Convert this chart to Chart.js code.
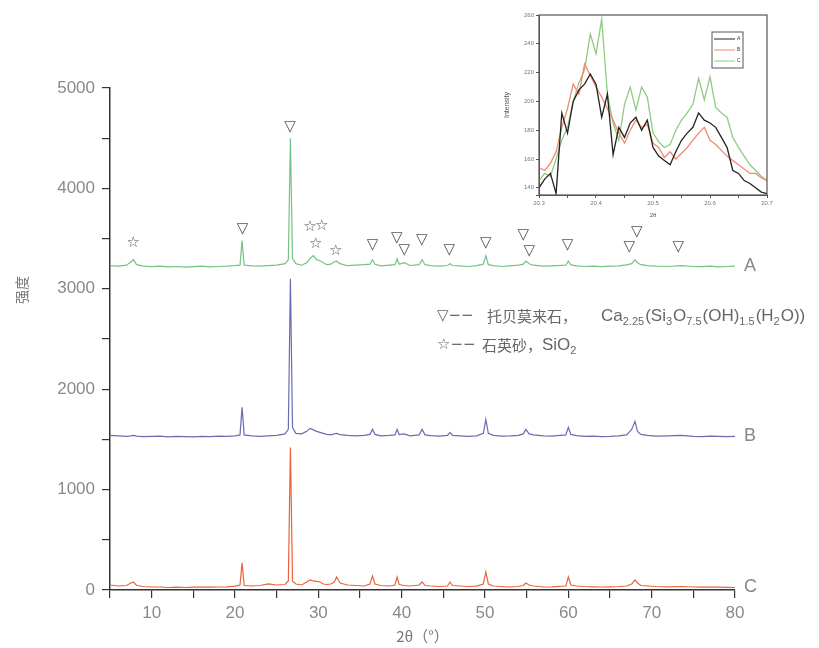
<!DOCTYPE html>
<html>
<head>
<meta charset="utf-8">
<script src="https://cdn.jsdelivr.net/npm/chart.js@4.4.0/dist/chart.umd.min.js"></script>
<style>
    html, body { margin: 0; padding: 0; background: #fff; }
    #wrap { position: relative; width: 819px; height: 648px; }
    #mainChart { position: absolute; left: 0; top: 0; }
    #insetChart { position: absolute; left: 495px; top: 5px; }
</style>
</head>
<body>
<div id="wrap">
    <canvas id="mainChart" width="819" height="648"></canvas>
    <canvas id="insetChart" width="285" height="218"></canvas>
</div>
<script>
// ===========================
// Data
// ===========================
const twoTheta = [
    5, 6, 7, 7.5, 7.8, 8.2, 9, 10, 11, 12,
    13, 14, 15, 16, 17, 18, 19, 20, 20.6, 20.85,
    21.1, 22, 23, 24, 25, 26, 26.4, 26.65, 26.9, 27.3,
    28, 28.6, 29, 29.4, 29.8, 30.2, 30.6, 31, 31.5, 31.9,
    32.2, 32.6, 33.5, 34.5, 35.5, 36.2, 36.5, 36.8, 37.5, 38.5,
    39.2, 39.45, 39.7, 40.3, 41, 42.1, 42.45, 42.8, 43.5, 44.5,
    45.5, 45.8, 46.1, 47, 48, 49, 49.8, 50.1, 50.4, 51,
    52, 53, 54, 54.6, 54.9, 55.3, 55.8, 57, 58, 59.7,
    60, 60.3, 61, 62, 63, 64, 65, 66, 67, 67.6,
    68, 68.3, 68.7, 69.5, 70.5, 72, 73.5, 75, 76, 77,
    78, 79, 80
];

const intensityA = [
    3230, 3225, 3235, 3270, 3290, 3240, 3225, 3220, 3225, 3218,
    3222, 3215, 3220, 3225, 3218, 3222, 3225, 3230, 3235, 3480,
    3235, 3228, 3225, 3230, 3235, 3250, 3290, 4500, 3300, 3250,
    3235, 3260, 3300, 3330, 3290, 3280, 3260, 3240, 3245, 3270,
    3275, 3250, 3230, 3235, 3240, 3245, 3290, 3245, 3228, 3235,
    3240, 3300, 3245, 3260, 3232, 3240, 3290, 3240, 3230, 3225,
    3232, 3250, 3232, 3228, 3222, 3230, 3245, 3330, 3240, 3230,
    3222, 3228, 3235, 3245, 3275, 3250, 3235, 3225, 3228, 3235,
    3275, 3238, 3228, 3222, 3225, 3220, 3225, 3228, 3238, 3250,
    3290, 3260, 3240, 3230, 3225, 3222, 3230, 3222, 3220, 3225,
    3218, 3222, 3225
];

const intensityB = [
    1540, 1535, 1530, 1535, 1540, 1532, 1528, 1530, 1532, 1526,
    1530, 1528, 1525, 1530, 1528, 1532, 1530, 1535, 1545, 1820,
    1545, 1535, 1530, 1535, 1540, 1555, 1600, 3100, 1620, 1560,
    1555, 1580, 1610, 1595, 1580, 1570, 1560, 1550, 1545, 1555,
    1560, 1548, 1540, 1535, 1540, 1550, 1600, 1550, 1535, 1540,
    1545, 1600, 1548, 1555, 1535, 1545, 1600, 1545, 1538, 1532,
    1540, 1570, 1540, 1535, 1530, 1535, 1560, 1700, 1560, 1540,
    1532, 1535, 1540, 1555, 1600, 1555, 1545, 1535, 1532, 1545,
    1620, 1550, 1538, 1530, 1532, 1528, 1530, 1535, 1545, 1600,
    1680, 1580, 1550, 1540, 1532, 1535, 1540, 1530, 1528, 1532,
    1530, 1528, 1530
];

const intensityC = [
    50, 40, 45, 70, 80, 45, 35, 30, 30, 25,
    28, 25, 28, 30, 28, 30, 32, 38, 50, 270,
    45, 40, 45, 60, 50, 55, 90, 1420, 90, 60,
    50, 80, 100, 90, 85, 80, 60, 55, 60, 80,
    130, 70, 50, 45, 40, 60, 140, 60, 45, 40,
    50, 130, 55, 45, 40, 50, 80, 45, 40, 35,
    40, 80, 45, 40, 35, 38, 60, 180, 60, 40,
    35, 30, 35, 45, 70, 50, 40, 30, 32, 40,
    130, 50, 40, 35, 32, 30, 32, 35, 40, 60,
    100, 70, 45, 40, 35, 32, 35, 30, 28, 30,
    28, 26, 25
];

// Phase markers (tobermorite = triangle, quartz = star)
const tobermoriteX = [20.9, 26.6, 36.5, 39.4, 40.3, 42.4, 45.7, 50.1, 54.6, 55.3, 59.9, 67.3, 68.2, 73.2];
const tobermoriteY = [3590, 4610, 3440, 3500, 3390, 3480, 3390, 3460, 3530, 3380, 3440, 3420, 3560, 3420];
const quartzX = [7.8, 29.0, 30.4, 29.7, 32.1];
const quartzY = [3460, 3610, 3625, 3445, 3380];

// Inset (zoomed region)
const insetTheta = [
    20.30, 20.31, 20.32, 20.33, 20.34, 20.35, 20.36, 20.37, 20.38, 20.39,
    20.40, 20.41, 20.42, 20.43, 20.44, 20.45, 20.46, 20.47, 20.48, 20.49,
    20.50, 20.51, 20.52, 20.53, 20.54, 20.55, 20.56, 20.57, 20.58, 20.59,
    20.60, 20.61, 20.62, 20.63, 20.64, 20.65, 20.66, 20.67, 20.68, 20.69,
    20.70
];
const insetBlack = [
    140, 146, 150, 136, 192, 178, 200, 208, 212, 219,
    212, 189, 205, 163, 182, 175, 185, 189, 180, 187,
    168, 162, 159, 156, 165, 173, 178, 182, 192, 187,
    185, 182, 175, 168, 152, 150, 145, 143, 140, 137,
    136
];
const insetRed = [
    154, 152, 157, 165, 182, 195, 212, 205, 226, 218,
    210, 203, 195, 187, 178, 171, 180, 187, 182, 184,
    171, 168, 161, 165, 160, 164, 168, 173, 178, 182,
    173, 170, 166, 162, 159, 156, 153, 150, 150, 147,
    145
];
const insetGreen = [
    145, 150, 148, 160, 173, 182, 200, 213, 222, 247,
    233, 257, 205, 185, 173, 198, 210, 194, 210, 203,
    178, 172, 168, 170, 180, 187, 192, 198, 216, 201,
    217, 196, 192, 189, 175, 168, 162, 156, 152, 148,
    145
];
const insetLabels = ['A', 'B', 'C'];

// ===========================
// Plugins
// ===========================
const markerPlugin = {
    id: 'markers',
    afterDatasetsDraw(chart) {
        const { ctx, scales: { x, y } } = chart;
        ctx.save();
        ctx.fillStyle = '#555';
        ctx.textAlign = 'center';
        ctx.textBaseline = 'middle';
        ctx.font = '15px "DejaVu Sans"';
        tobermoriteX.forEach((v, i) => {
            ctx.fillText('▽', x.getPixelForValue(v), y.getPixelForValue(tobermoriteY[i]));
        });
        quartzX.forEach((v, i) => {
            ctx.fillText('☆', x.getPixelForValue(v), y.getPixelForValue(quartzY[i]));
        });
        ctx.restore();
    }
};

const seriesLabelPlugin = {
    id: 'seriesLabels',
    afterDatasetsDraw(chart) {
        const { ctx, scales: { x, y } } = chart;
        ctx.save();
        ctx.fillStyle = '#888';
        ctx.font = '18px "Liberation Sans"';
        ctx.textBaseline = 'middle';
        chart.data.datasets.forEach(ds => {
            const last = ds.data[ds.data.length - 1];
            ctx.fillText(ds.label, x.right + 9, y.getPixelForValue(last.y));
        });
        ctx.restore();
    }
};

// draws a run of normal / subscript text pieces
function drawRich(ctx, x, y, parts) {
    parts.forEach(([text, sub]) => {
        if (sub) {
            ctx.font = '11px "Liberation Sans"';
            ctx.fillText(text, x, y + 6);
        } else {
            ctx.font = '17px "Liberation Sans"';
            ctx.fillText(text, x, y);
        }
        x += ctx.measureText(text).width + (sub ? 1 : 0);
    });
}

const notePlugin = {
    id: 'note',
    afterDraw(chart) {
        const ctx = chart.ctx;
        ctx.save();
        ctx.fillStyle = '#666';
        ctx.textBaseline = 'middle';
        // line 1
        ctx.font = '15px "DejaVu Sans"';
        ctx.fillText('▽−−', 437, 316);
        ctx.font = '15px "Noto Sans CJK SC"';
        ctx.fillText('托贝莫来石，', 487, 316);
        drawRich(ctx, 601, 316, [
            ['Ca'], ['2.25', true], ['(Si'], ['3', true], ['O'], ['7.5', true],
            ['(OH)'], ['1.5', true], ['(H'], ['2', true], ['O))']
        ]);
        // line 2
        ctx.font = '15px "DejaVu Sans"';
        ctx.fillText('☆−−', 437, 345);
        ctx.font = '15px "Noto Sans CJK SC"';
        ctx.fillText('石英砂，', 482, 345);
        drawRich(ctx, 542, 345, [['SiO'], ['2', true]]);
        // y axis title
        ctx.translate(22, 290);
        ctx.rotate(-Math.PI / 2);
        ctx.textAlign = 'center';
        ctx.fillStyle = '#777';
        ctx.font = '14px "Noto Sans CJK SC"';
        ctx.fillText('强度', 0, 0);
        ctx.restore();
    }
};

const framePlugin = {
    id: 'frame',
    afterDraw(chart) {
        const { ctx, chartArea: a } = chart;
        ctx.save();
        ctx.strokeStyle = '#555';
        ctx.lineWidth = 1.2;
        ctx.strokeRect(a.left, a.top, a.right - a.left, a.bottom - a.top);
        // small legend box
        const colors = ['#222', '#f08a70', '#90cc80'];
        ctx.lineWidth = 1;
        ctx.strokeRect(217, 27, 31, 36);
        ctx.font = '5px "Liberation Sans"';
        ctx.textBaseline = 'middle';
        colors.forEach((c, i) => {
            const yy = 34 + i * 11;
            ctx.strokeStyle = c;
            ctx.beginPath();
            ctx.moveTo(219, yy);
            ctx.lineTo(240, yy);
            ctx.stroke();
            ctx.fillStyle = '#333';
            ctx.fillText(insetLabels[i], 242, yy);
        });
        ctx.restore();
    }
};

// ===========================
// Main XRD chart
// ===========================
const tickFont = { family: 'Liberation Sans', size: 17 };
const toPoints = ys => twoTheta.map((x, i) => ({ x: x, y: ys[i] }));

const mainChart = new Chart(document.getElementById('mainChart'), {
    type: 'line',
    data: {
        datasets: [
            { label: 'A', data: toPoints(intensityA), borderColor: '#74c285' },
            { label: 'B', data: toPoints(intensityB), borderColor: '#6a6cb0' },
            { label: 'C', data: toPoints(intensityC), borderColor: '#e8643c' }
        ]
    },
    options: {
        responsive: false,
        animation: false,
        layout: { padding: { top: 88, right: 84, left: 0, bottom: 0 } },
        elements: {
            point: { radius: 0 },
            line: { borderWidth: 1.2, tension: 0 }
        },
        plugins: {
            legend: { display: false },
            tooltip: { enabled: false }
        },
        scales: {
            x: {
                type: 'linear',
                min: 5,
                max: 80,
                afterFit: s => { s.height = 58; },
                ticks: {
                    stepSize: 5,
                    autoSkip: false,
                    maxRotation: 0,
                    padding: 5,
                    color: '#8a8a8a',
                    font: tickFont,
                    callback: v => (v % 10 === 0 ? v : '')
                },
                grid: { drawOnChartArea: false, tickLength: 8, color: '#333', lineWidth: 1.2 },
                border: { color: '#333', width: 1.5 },
                title: {
                    display: true,
                    text: '2θ（°）',
                    color: '#777',
                    font: { family: 'Noto Sans CJK SC', size: 15 },
                    padding: { top: 0, bottom: 3 }
                }
            },
            y: {
                min: 0,
                max: 5000,
                afterFit: s => { s.width = 110; },
                ticks: {
                    stepSize: 500,
                    autoSkip: false,
                    padding: 7,
                    color: '#8a8a8a',
                    font: tickFont,
                    callback: v => (v % 1000 === 0 ? v : '')
                },
                grid: { drawOnChartArea: false, tickLength: 8, color: '#333', lineWidth: 1.2 },
                border: { color: '#333', width: 1.5 }
            }
        }
    },
    plugins: [markerPlugin, seriesLabelPlugin, notePlugin]
});

// ===========================
// Inset chart
// ===========================
const toInset = ys => insetTheta.map((x, i) => ({ x: x, y: ys[i] }));
const smallFont = { family: 'Liberation Sans', size: 6 };

const insetChart = new Chart(document.getElementById('insetChart'), {
    type: 'line',
    data: {
        datasets: [
            { label: 'A', data: toInset(insetBlack), borderColor: '#222' },
            { label: 'B', data: toInset(insetRed), borderColor: '#f08a70' },
            { label: 'C', data: toInset(insetGreen), borderColor: '#90cc80' }
        ]
    },
    options: {
        responsive: false,
        animation: false,
        layout: { padding: { top: 10, right: 13, left: 0, bottom: 0 } },
        elements: {
            point: { radius: 0 },
            line: { borderWidth: 1.3, tension: 0 }
        },
        plugins: {
            legend: { display: false },
            tooltip: { enabled: false }
        },
        scales: {
            x: {
                type: 'linear',
                min: 20.3,
                max: 20.7,
                afterFit: s => { s.height = 28; },
                ticks: {
                    stepSize: 0.05,
                    autoSkip: false,
                    maxRotation: 0,
                    padding: 2,
                    color: '#777',
                    font: smallFont,
                    callback: v => (Math.round(v * 100) % 10 === 0 ? v.toFixed(1) : '')
                },
                grid: { drawOnChartArea: false, tickLength: 3, color: '#555' },
                border: { color: '#555' },
                title: { display: true, text: '2θ', color: '#555', font: smallFont, padding: { top: 0, bottom: 4 } }
            },
            y: {
                min: 135,
                max: 260,
                afterFit: s => { s.width = 44; },
                ticks: {
                    stepSize: 20,
                    autoSkip: false,
                    padding: 2,
                    color: '#777',
                    font: smallFont,
                    callback: v => (v % 20 === 0 ? v : '')
                },
                grid: { drawOnChartArea: false, tickLength: 3, color: '#555' },
                border: { color: '#555' },
                title: { display: true, text: 'Intensity', color: '#555', font: { family: 'Liberation Sans', size: 7 }, padding: { top: 8, bottom: 0 } }
            }
        }
    },
    plugins: [framePlugin]
});
</script>
</body>
</html>
